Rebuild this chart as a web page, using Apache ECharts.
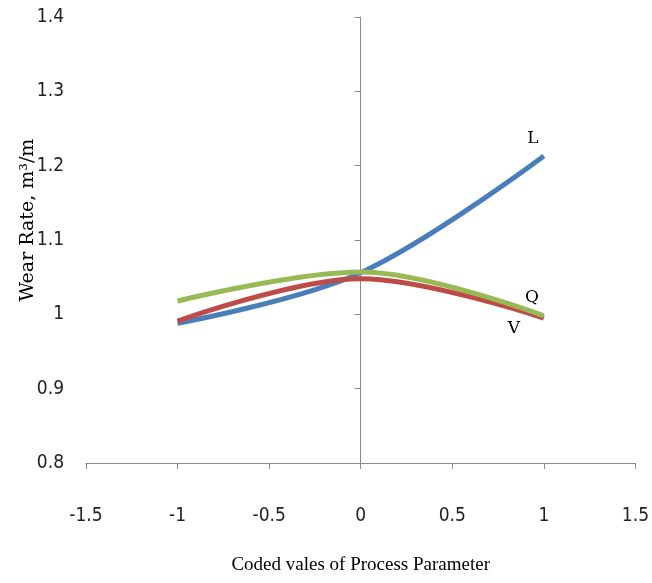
<!DOCTYPE html>
<html>
<head>
<meta charset="utf-8">
<script src="https://cdn.jsdelivr.net/npm/echarts@6/dist/echarts.min.js"></script>
<style>html,body{margin:0;padding:0;background:#fff;}#c{width:652px;height:583px;}</style>
</head>
<body>
<div id="c"></div>
<script>
var xLevels = [-1, 0, 1];
var seriesNames = ['L', 'V', 'Q'];
var valuesL = [0.988, 1.056, 1.213];
var valuesV = [0.991, 1.048, 0.995];
var valuesQ = [1.018, 1.057, 0.998];
var xTicks = [-1.5, -1, -0.5, 0, 0.5, 1, 1.5];
var yTicks = [0.8, 0.9, 1, 1.1, 1.2, 1.3, 1.4];
var xTitle = 'Coded vales of Process Parameter';
var yTitle = 'Wear Rate, m\u00B3/m';

var colors = { L: '#4A7EBB', V: '#BE4B48', Q: '#98B954' };
var labelOffsets = { L: [-11, -17], V: [-30, 11], Q: [-12, -18] };

function buildData(vals, name) {
  return vals.map(function (v, i) {
    var d = { value: [xLevels[i], v] };
    if (i === vals.length - 1) {
      d.label = {
        show: true, formatter: name, position: 'inside', offset: labelOffsets[name],
        fontFamily: "'DejaVu Serif', serif", fontSize: 17, color: '#000'
      };
    }
    return d;
  });
}

var valuesByName = { L: valuesL, V: valuesV, Q: valuesQ };
var axisGray = '#8C8C8C';
var tickFont = "'Liberation Sans Narrow', 'DejaVu Sans Condensed', sans-serif";

var chart = echarts.init(document.getElementById('c'));
chart.setOption({
  animation: false,
  grid: { left: 86, right: 12, top: 17, bottom: 120, containLabel: false },
  xAxis: {
    type: 'value', min: xTicks[0], max: xTicks[xTicks.length - 1], interval: 0.5,
    splitLine: { show: false },
    axisLine: { lineStyle: { color: axisGray, width: 1 } },
    axisTick: { length: 6, lineStyle: { color: axisGray } },
    axisLabel: { margin: 44, fontFamily: tickFont, fontSize: 19, color: '#222' },
    name: xTitle, nameLocation: 'middle', nameGap: 93, nameMoveOverlap: false,
    nameTextStyle: { fontFamily: "'Liberation Serif', serif", fontSize: 19, color: '#000' }
  },
  yAxis: [
    {
      type: 'value', min: yTicks[0], max: yTicks[yTicks.length - 1], interval: 0.1,
      splitLine: { show: false },
      axisLine: { show: true, onZero: true, lineStyle: { color: axisGray, width: 1 } },
      axisTick: { show: true, length: 6, lineStyle: { color: axisGray } },
      axisLabel: { show: false }
    },
    {
      type: 'value', min: yTicks[0], max: yTicks[yTicks.length - 1], interval: 0.1,
      position: 'left',
      splitLine: { show: false },
      axisLine: { show: false, onZero: false },
      axisTick: { show: false },
      axisLabel: { margin: 22, fontFamily: tickFont, fontSize: 19, color: '#222' },
      name: yTitle, nameLocation: 'middle', nameGap: 48, nameMoveOverlap: false,
      nameTextStyle: { fontFamily: "'DejaVu Serif', serif", fontSize: 19, color: '#000', padding: [0, 0, 0, 40] }
    }
  ],
  series: seriesNames.map(function (n) {
    return {
      name: n, type: 'line', yAxisIndex: 0, smooth: 0.35,
      showSymbol: true, symbol: 'circle', symbolSize: 0,
      lineStyle: { color: colors[n], width: 5 },
      itemStyle: { color: colors[n] },
      data: buildData(valuesByName[n], n)
    };
  })
});
</script>
</body>
</html>
